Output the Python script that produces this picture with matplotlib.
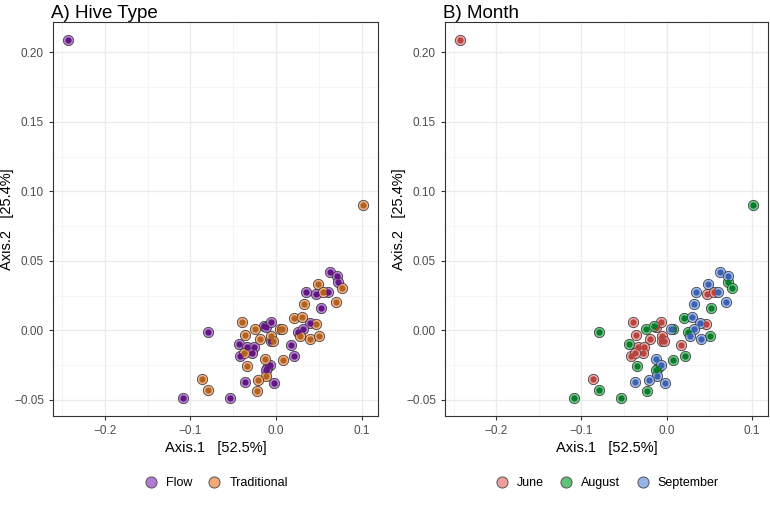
import matplotlib
matplotlib.use("Agg")
import matplotlib.pyplot as plt
from matplotlib.lines import Line2D
from matplotlib.ticker import MultipleLocator

plt.rcParams['font.family'] = ['Liberation Sans', 'DejaVu Sans']

# ordination coordinates
axis1 = [-0.2431, 0.1019,
         0.0630, 0.0716, 0.0720, 0.0774, 0.0486, 0.0350, 0.0471, 0.0552, 0.0603, 0.0700,
         0.0327, 0.0525, 0.0210, 0.0303, 0.0397, 0.0467, -0.0393, -0.0797, -0.0241, -0.0144,
         -0.0121, -0.0062, 0.0047, 0.0070, -0.0358, -0.0190, -0.0058, -0.0054, -0.0031, 0.0257,
         0.0319, 0.0276, 0.0401, 0.0506, -0.0436, -0.0338, -0.0261, -0.0280, -0.0416, -0.0373,
         0.0175, 0.0214, -0.0124, 0.0078, -0.0342, -0.0066, -0.0101, -0.0121, -0.0113, -0.0867,
         -0.0793, -0.0366, -0.0206, -0.0023, -0.0226, -0.1085, -0.0537]
axis2 = [0.2089, 0.0903,
         0.0418, 0.0387, 0.0346, 0.0304, 0.0331, 0.0275, 0.0259, 0.0278, 0.0278, 0.0203,
         0.0186, 0.0159, 0.0090, 0.0099, 0.0053, 0.0046, 0.0061, -0.0009, 0.0012, 0.0032,
         0.0022, 0.0063, 0.0007, 0.0007, -0.0031, -0.0065, -0.0041, -0.0075, -0.0075, -0.0012,
         0.0007, -0.0043, -0.0060, -0.0041, -0.0096, -0.0123, -0.0118, -0.0167, -0.0188, -0.0167,
         -0.0106, -0.0186, -0.0205, -0.0212, -0.0258, -0.0249, -0.0270, -0.0285, -0.0331, -0.0352,
         -0.0427, -0.0372, -0.0355, -0.0379, -0.0435, -0.0488, -0.0488]
hive = ['Flow', 'Traditional',
        'Flow', 'Flow', 'Flow', 'Traditional', 'Traditional', 'Flow', 'Flow', 'Traditional', 'Flow', 'Traditional',
        'Traditional', 'Flow', 'Traditional', 'Traditional', 'Flow', 'Traditional', 'Traditional', 'Flow', 'Traditional', 'Flow',
        'Flow', 'Flow', 'Traditional', 'Traditional', 'Traditional', 'Traditional', 'Traditional', 'Flow', 'Traditional', 'Flow',
        'Flow', 'Traditional', 'Traditional', 'Traditional', 'Flow', 'Flow', 'Flow', 'Flow', 'Flow', 'Traditional',
        'Flow', 'Flow', 'Traditional', 'Traditional', 'Traditional', 'Flow', 'Flow', 'Flow', 'Traditional', 'Traditional',
        'Traditional', 'Flow', 'Traditional', 'Flow', 'Traditional', 'Flow', 'Flow']
month = ['June', 'August',
         'September', 'September', 'August', 'August', 'September', 'September', 'June', 'June', 'September', 'September',
         'September', 'August', 'August', 'September', 'September', 'June', 'June', 'August', 'August', 'August',
         'June', 'June', 'September', 'August', 'June', 'June', 'June', 'June', 'June', 'August',
         'September', 'September', 'September', 'August', 'August', 'June', 'June', 'June', 'June', 'June',
         'June', 'August', 'September', 'August', 'August', 'September', 'August', 'August', 'September', 'June',
         'August', 'September', 'September', 'September', 'August', 'August', 'August']

hive_levels = ['Flow', 'Traditional']
month_levels = ['June', 'August', 'September']
# (light fill, dark centre)
hive_cols = {'Flow': ('#b27ad0', '#61177f'), 'Traditional': ('#f2a877', '#b0621f')}
month_cols = {'June': ('#ee9f9c', '#b8433f'), 'August': ('#62c27a', '#0a7a2c'),
              'September': ('#97b3ea', '#3a62b0')}

fig = plt.figure(figsize=(7.7, 5.07), dpi=100)
W, H = 770, 507
ax_a = fig.add_axes([53 / W, (H - 416) / H, 325 / W, 394 / H])
ax_b = fig.add_axes([445 / W, (H - 416) / H, 323 / W, 394 / H])


def panel(ax, groups, levels, cols, title):
    for lev in levels:
        xs = [x for x, g in zip(axis1, groups) if g == lev]
        ys = [y for y, g in zip(axis2, groups) if g == lev]
        ax.scatter(xs, ys, s=55, facecolor=cols[lev][0], edgecolor='#333333',
                   linewidth=0.6, alpha=0.9, zorder=3)
        ax.scatter(xs, ys, s=20, color=cols[lev][1], linewidth=0, zorder=4)
    ax.margins(0.05)
    ax.xaxis.set_major_locator(MultipleLocator(0.1))
    ax.xaxis.set_minor_locator(MultipleLocator(0.05))
    ax.yaxis.set_major_locator(MultipleLocator(0.05))
    ax.yaxis.set_minor_locator(MultipleLocator(0.025))
    ax.xaxis.set_major_formatter(matplotlib.ticker.FuncFormatter(lambda v, p: f"{v:.1f}".replace('-', '\u2212')))
    ax.yaxis.set_major_formatter(matplotlib.ticker.FuncFormatter(lambda v, p: f"{v:.2f}".replace('-', '\u2212')))
    ax.grid(which='major', color='#ebebeb', linewidth=0.9, zorder=0)
    ax.grid(which='minor', color='#f2f2f2', linewidth=0.5, zorder=0)
    ax.set_axisbelow(True)
    for s in ax.spines.values():
        s.set_color('#333333')
        s.set_linewidth(0.8)
    ax.tick_params(which='major', length=3, color='#333333', labelcolor='#4d4d4d', labelsize=8.5)
    ax.tick_params(which='minor', length=0)
    ax.set_xlabel('Axis.1   [52.5%]', fontsize=10.5, labelpad=3)
    ax.set_ylabel('Axis.2   [25.4%]', fontsize=10.5)
    ax.yaxis.set_label_coords(-39 / (ax.get_position().width * W), 0.5)
    ax.set_title(title, loc='left', fontsize=13.5, pad=3, x=-0.005)
    handles = [Line2D([], [], marker='o', linestyle='', markersize=8, markerfacecolor=cols[l][0],
                      markeredgecolor='#555555', markeredgewidth=0.7) for l in levels]
    pos = ax.get_position()
    fig.legend(handles, levels, loc='center', ncol=len(levels), frameon=False, fontsize=9,
               bbox_to_anchor=((pos.x0 + pos.x1) / 2, 24 / H), handletextpad=0.6,
               columnspacing=1.2, handlelength=1.2)


panel(ax_a, hive, hive_levels, hive_cols, 'A) Hive Type')
panel(ax_b, month, month_levels, month_cols, 'B) Month')

fig.savefig('out.png', dpi=100)
